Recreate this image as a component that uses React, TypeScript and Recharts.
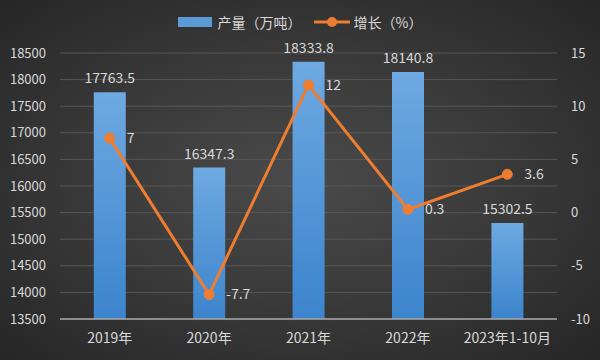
import React from "react";
import {
  ComposedChart,
  Bar,
  Line,
  XAxis,
  YAxis,
  CartesianGrid,
  Legend,
  LabelList,
} from "recharts";

const categories = ["2019年", "2020年", "2021年", "2022年", "2023年1-10月"];
const output = [17763.5, 16347.3, 18333.8, 18140.8, 15302.5];
const growth = [7, -7.7, 12, 0.3, 3.6];
const leftTicks = [13500, 14000, 14500, 15000, 15500, 16000, 16500, 17000, 17500, 18000, 18500];
const rightTicks = [-10, -5, 0, 5, 10, 15];

const data = categories.map((c, i) => ({ name: c, output: output[i], growth: growth[i] }));

const FONT = '"Noto Sans CJK SC", "Noto Sans", sans-serif';
const TEXT = "#d9d9d9";
const ORANGE = "#ed7d31";

const LegendContent = () => (
  <div
    style={{
      display: "flex",
      justifyContent: "center",
      alignItems: "center",
      height: 20,
      fontFamily: FONT,
      fontSize: 14,
      color: TEXT,
      paddingLeft: 0,
    }}
  >
    <div style={{ width: 34, height: 10, background: "#5b9bd5", marginRight: 6 }} />
    <span style={{ marginRight: 12 }}>产量（万吨）</span>
    <svg width={36} height={12} style={{ marginRight: 4 }}>
      <line x1={0} y1={6} x2={36} y2={6} stroke={ORANGE} strokeWidth={3} />
      <circle cx={18} cy={6} r={5} fill={ORANGE} />
    </svg>
    <span>增长（%）</span>
  </div>
);

export default function App() {
  return (
    <div
      style={{
        position: "absolute",
        left: 0,
        top: 0,
        width: 600,
        height: 360,
        background: "radial-gradient(ellipse at 50% 50%, #4a4a4a 0%, #3b3b3b 45%, #262626 100%)",
      }}
    >
      <ComposedChart
        width={600}
        height={360}
        data={data}
        margin={{ top: 33, right: 0, bottom: 0, left: 0 }}
        barCategoryGap="34%"
      >
        <defs>
          <linearGradient id="barGrad" x1="0" y1="0" x2="0" y2="1">
            <stop offset="0%" stopColor="#6ea9e1" />
            <stop offset="100%" stopColor="#3c84cd" />
          </linearGradient>
        </defs>
        <CartesianGrid vertical={false} stroke="#575757" strokeWidth={1} yAxisId="left" />
        <Legend
          verticalAlign="top"
          align="center"
          content={<LegendContent />}
          wrapperStyle={{ top: 12, left: 0, width: 600, height: 20 }}
        />
        <XAxis
          dataKey="name"
          tickLine={false}
          axisLine={{ stroke: "#a6a6a6", strokeWidth: 1.5 }}
          tick={{ fill: TEXT, fontSize: 14, fontFamily: FONT }}
          tickMargin={8}
          height={41}
          interval={0}
        />
        <YAxis
          yAxisId="left"
          orientation="left"
          domain={[13500, 18500]}
          ticks={leftTicks}
          width={60}
          tickLine={false}
          axisLine={false}
          tick={{ fill: TEXT, fontSize: 13, fontFamily: FONT }}
          tickMargin={8}
          interval={0}
        />
        <YAxis
          yAxisId="right"
          orientation="right"
          domain={[-10, 15]}
          ticks={rightTicks}
          width={43}
          tickLine={false}
          axisLine={false}
          tick={{ fill: TEXT, fontSize: 13, fontFamily: FONT }}
          tickMargin={8}
          interval={0}
        />
        <Bar yAxisId="left" dataKey="output" fill="url(#barGrad)" isAnimationActive={false}>
          <LabelList
            dataKey="output"
            position="top"
            offset={9}
            fill={TEXT}
            fontSize={14}
            fontFamily={FONT}
          />
        </Bar>
        <Line
          yAxisId="right"
          dataKey="growth"
          stroke={ORANGE}
          strokeWidth={3}
          dot={{ r: 5, fill: ORANGE, stroke: ORANGE, strokeWidth: 1 }}
          activeDot={false}
          isAnimationActive={false}
        >
          <LabelList
            dataKey="growth"
            position="right"
            offset={17}
            fill={TEXT}
            fontSize={14}
            fontFamily={FONT}
          />
        </Line>
      </ComposedChart>
    </div>
  );
}
